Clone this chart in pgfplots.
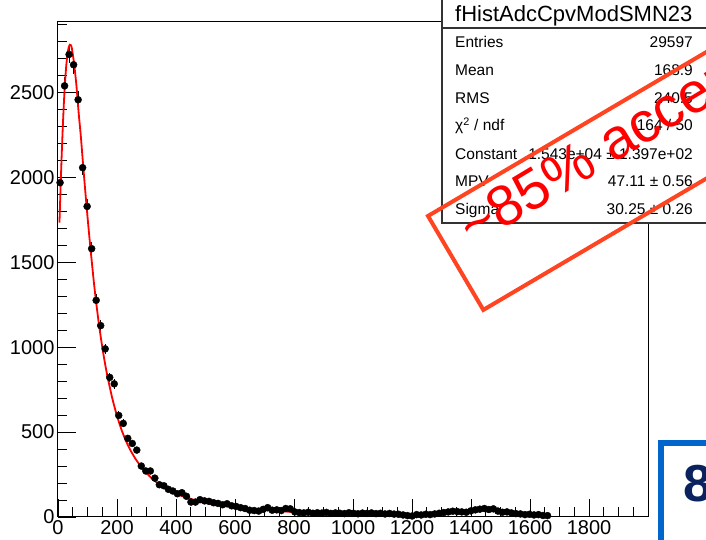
\documentclass[border=0pt]{standalone}
\usepackage{fontspec}
\setmainfont{Liberation Sans}
\usepackage{pgfplots}
\pgfplotsset{compat=1.18}
\usepackage{pgfplotstable}
\definecolor{stamprect}{RGB}{255,68,34}
\definecolor{stamptext}{RGB}{255,0,0}
\definecolor{boxblue}{RGB}{0,102,204}
\definecolor{navy}{RGB}{10,35,95}

\pgfplotstableread{
x y
7 1969
22.3 2539
37.6 2724
52.9 2663
68.2 2457
83.5 2057
98.8 1829
114.1 1580
129.4 1276
144.7 1127
160 990
175.3 822
190.6 784
205.9 598
221.2 551
236.5 463
251.8 433
267.1 394
282.4 300
297.7 271
313 271
328.3 229
343.6 190
358.9 184
374.2 163
389.5 153
404.8 137
420.1 143
435.4 122
450.7 88
466 88
481.3 102
496.6 95
511.9 92
527.2 84
542.5 80
557.8 72
573.1 78
588.4 66
603.7 62
619 55
634.3 50
649.6 40
664.9 38
680.2 35
695.5 45
710.8 55
726.1 40
741.4 42
756.7 38
772 50
787.3 48
802.6 30
817.9 26
833.2 24
848.5 28
863.8 22
879.1 25
894.4 23
909.7 27
925 21
940.3 24
955.6 22
970.9 20
986.2 25
1001.5 22
1016.8 19
1032.1 23
1047.4 21
1062.7 24
1078 20
1093.3 22
1108.6 18
1123.9 21
1139.2 17
1154.5 16
1169.8 12
1185.1 8
1200.4 6
1215.7 14
1231 12
1246.3 16
1261.6 14
1276.9 18
1292.2 22
1307.5 26
1322.8 30
1338.1 34
1353.4 32
1368.7 30
1384 28
1399.3 36
1414.6 42
1429.9 46
1445.2 50
1460.5 44
1475.8 48
1491.1 35
1506.4 28
1521.7 30
1537 24
1552.3 20
1567.6 18
1583 14
1598.2 16
1613.5 12
1628.8 14
1644.1 9
1659.4 8
}\histdata

\begin{document}
\begin{tikzpicture}
\fill[white] (0pt,0pt) rectangle (706pt,540pt);
\begin{axis}[
  at={(58pt,23pt)}, anchor=south west,
  scale only axis, width=590pt, height=495pt,
  xmin=0, xmax=2000, ymin=0, ymax=2915,
  xtick={0,200,...,1800}, ytick={0,500,...,2500},
  minor xtick={50,100,...,1950}, minor ytick={100,200,...,2900},
  tick align=inside, xtick pos=left, ytick pos=left,
  major tick length=18pt, minor tick length=9.5pt,
  tick style={black, line width=0.8pt},
  axis line style={black, line width=1pt},
  ticklabel style={font=\fontsize{20}{20}\selectfont},
  /pgf/number format/assume math mode=true,
  /pgf/number format/1000 sep={},
]
\addplot[only marks, mark=*, mark size=3.5pt, black,
  error bars/.cd, x dir=both, x explicit, y dir=both, y explicit, error mark=none,
  error bar style={black, line width=0.9pt}]
  table[x=x, y=y, x error expr=7.65, y error expr=sqrt(\thisrow{y})] {\histdata};
\addplot[red, line width=1.8pt, smooth, tension=0.4] coordinates {
(5,1734) (8,1901) (12,2106) (16,2287) (20,2440) (24,2564) (28,2658)
(32,2724) (36,2764) (40,2781) (44,2778) (47.1,2759) (54.7,2668)
(62.2,2546) (69.8,2384) (77.4,2242) (84.9,2078) (92.5,1918) (100.1,1767)
(107.6,1626) (115.2,1492) (122.7,1364) (130.3,1251) (137.9,1146)
(145.4,1054) (153,969) (160.5,893) (168.1,824) (175.7,763) (183.2,705)
(190.8,653) (198.4,605) (213.5,522) (228.6,455) (243.7,399) (258.9,353)
(274,314) (289.1,279) (319.4,225) (349.6,185) (379.9,155) (410.1,130)
(455.5,104) (500.9,83.5) (576.5,62) (652.1,46.4) (727.7,36.8) (795,29.8)
};
\end{axis}
\begin{scope}[x=1pt, y=1pt]
\clip (0,0) rectangle (706,540);
% stats box
\filldraw[overlay, fill=white, draw=black!80, line width=1.2pt] (442,317) rectangle (730,512);
\filldraw[overlay, fill=white, draw=black!80, line width=1.2pt] (442,512) rectangle (730,560);
\node[overlay, anchor=base west, inner sep=0, font=\fontsize{22}{22}\selectfont] at (455,518) {fHistAdcCpvModSMN23};
\begin{scope}[every node/.style={overlay, inner sep=0, font=\fontsize{15.5}{15.5}\selectfont}]
\node[anchor=base west] at (455,492) {Entries};
\node[anchor=base east] at (693,492) {29597};
\node[anchor=base west] at (455,464.2) {Mean};
\node[anchor=base east] at (693,464.2) {168.9};
\node[anchor=base west] at (455,436.4) {RMS};
\node[anchor=base east] at (693,436.4) {240.5};
\node[anchor=base west] at (455,409) {χ\textsuperscript{2} / ndf};
\node[anchor=base east] at (693,409) {164 / 50};
\node[anchor=base west] at (455,380.8) {Constant};
\node[anchor=base east] at (693,380.8) {1.543e+04 ± 1.397e+02};
\node[anchor=base west] at (455,353) {MPV};
\node[anchor=base east] at (693,353) {47.11 ± 0.56};
\node[anchor=base west] at (455,325.2) {Sigma};
\node[anchor=base east] at (693,325.2) {30.25 ± 0.26};
\end{scope}
% stamp
\draw[overlay, stamprect, line width=4pt, rotate around={30.5:(428,324)}] (428,324) rectangle ++(460,-109);
\node[overlay, text=stamptext, rotate=31, anchor=base west, inner sep=0, font=\fontsize{57}{57}\selectfont] at (473,292) {\textasciitilde 85\% acceptance};
% blue box
\filldraw[overlay, fill=white, draw=boxblue, line width=5.5pt] (661,97) rectangle (740,-20);
\node[overlay, anchor=base west, inner sep=0, text=navy, font=\fontsize{52}{52}\selectfont\bfseries] at (683,38) {8};
\end{scope}
\end{tikzpicture}
\end{document}
